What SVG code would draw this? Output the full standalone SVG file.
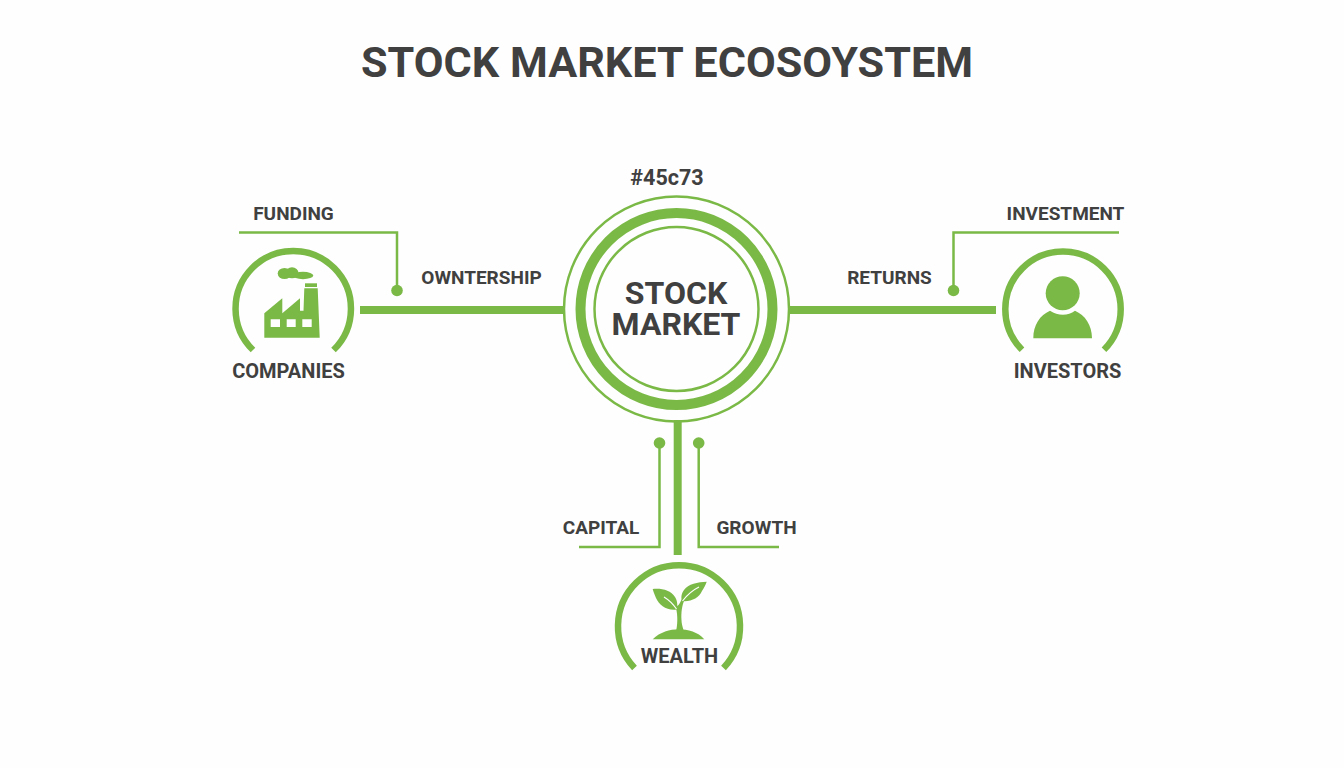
<svg xmlns="http://www.w3.org/2000/svg" width="1344" height="768" viewBox="0 0 1344 768">
<style>
text{font-family:Roboto,"Liberation Sans",sans-serif;font-weight:700;fill:#404040;text-anchor:middle}
.l{font-size:19px}
.n{font-size:20px}
.g{fill:#7bb947}
.th{fill:none;stroke:#7bb947;stroke-width:8}
.tn{fill:none;stroke:#7bb947;stroke-width:2.5}
.ar{fill:none;stroke:#7bb947;stroke-width:6.500}
</style>
<rect width="1344" height="768" fill="#fefefe"/>
<text id="title" x="667" y="77" font-size="43.200">STOCK MARKET ECOSOYSTEM</text>
<g id="connectors">
<path class="th" d="M360 310H565"/>
<path class="th" d="M790 310H996"/>
<path class="th" d="M677.700 420V555"/>
<path class="tn" d="M239 232.500H397V290"/>
<circle class="g" cx="397" cy="290.500" r="5.800"/>
<path class="tn" d="M1119 232.500H953.500V290"/>
<circle class="g" cx="953.500" cy="290.500" r="5.800"/>
<path class="tn" d="M659.500 443V547H579"/>
<circle class="g" cx="659.500" cy="443" r="5.800"/>
<path class="tn" d="M698.700 443V547H779"/>
<circle class="g" cx="698.700" cy="443" r="5.800"/>
<text class="l" x="293.500" y="220">FUNDING</text>
<text class="l" x="1065.500" y="220">INVESTMENT</text>
<text class="l" x="481.500" y="284">OWNTERSHIP</text>
<text class="l" x="889.500" y="284">RETURNS</text>
<text class="l" x="601" y="534">CAPITAL</text>
<text class="l" x="756.500" y="534">GROWTH</text>
</g>
<g id="stock-market">
<text x="667" y="185" font-size="21.500">#45c73</text>
<circle class="tn" cx="676.500" cy="309" r="112.500"/>
<circle cx="676.500" cy="309" r="96" fill="none" stroke="#7bb947" stroke-width="10"/>
<circle class="tn" cx="676.500" cy="309" r="82"/>
<text x="676" y="304" font-size="32">STOCK</text>
<text x="676" y="335" font-size="32">MARKET</text>
</g>
<g id="companies">
<path class="ar" d="M253 350A57.700 57.700 0 1 1 333.500 350"/>
<path class="g" fill-rule="evenodd" d="M264.300 313.300L282.300 298.300V313.300L300 298.300V310.700H303.500L304.300 288.300H317.700L319.700 337.700H264.300ZM270.700 319.300V327H280V319.300ZM286.700 319.300V327H295.700V319.300ZM302.300 319.300V327H311.700V319.300Z"/>
<rect class="g" x="305" y="283.300" width="12" height="3.700"/>
<ellipse class="g" cx="284.500" cy="273.500" rx="6.800" ry="5.500"/>
<ellipse class="g" cx="292" cy="272.800" rx="6.500" ry="5.500"/>
<ellipse class="g" cx="303" cy="275.500" rx="10.300" ry="3.700"/>
<text class="n" x="288.500" y="378">COMPANIES</text>
</g>
<g id="investors">
<path class="ar" d="M1022 349.800A57.700 57.700 0 1 1 1104 349.800"/>
<circle class="g" cx="1062.700" cy="293.300" r="17"/>
<path class="g" d="M1033.300 338.300C1033.300 325 1040 315 1050 310.700C1058 316 1068 316 1075 310.700C1085 315 1092 325 1092 338.300Z"/>
<text class="n" x="1067.500" y="378">INVESTORS</text>
</g>
<g id="wealth">
<path class="ar" d="M634.500 668A61 61 0 1 1 723.500 668"/>
<path class="g" d="M652.700 639.300C660 632 670 629.300 678.500 629.300C688 629.300 698 632 704.300 639.300Z"/>
<path class="g" d="M676.300 630C678 622 677.500 612 675.500 607L678.500 605C680 603 681 600.500 682.500 598L684.500 600C682 605 681 613 681.500 620C681.500 623 682.500 627 683.500 630Z"/>
<path class="g" d="M652.700 589C661 588 671 590 675 597C678 602 677.500 606 676.500 609.500C667 611 659 605 656 598C654.500 594.500 653.500 592 652.700 589Z"/>
<path class="g" d="M706.700 581.700C698 582 688 584 684 590C681 594 681 598 682 601C691 602 699 598 702 591C704 588 705.500 585 706.700 581.700Z"/>
<path d="M664 597C669 600 673 604 676.500 609M699 587C693 590 687 595 682.500 601" fill="none" stroke="#fefefe" stroke-width="1.200"/>
<text class="n" x="679.500" y="663">WEALTH</text>
</g>
</svg>
